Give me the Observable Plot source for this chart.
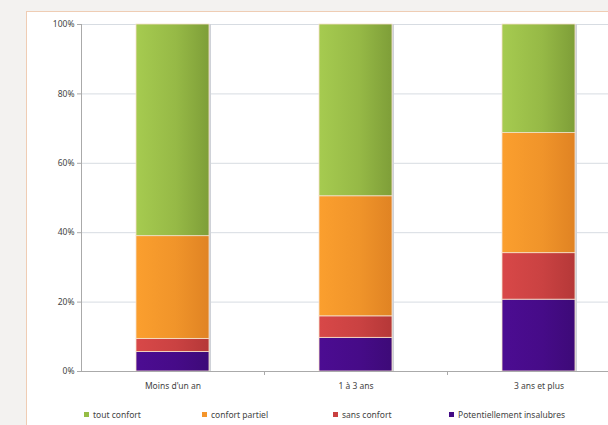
<!DOCTYPE html>
<html><head><meta charset="utf-8">
<script src="https://cdn.jsdelivr.net/npm/d3@7"></script>
<script src="https://cdn.jsdelivr.net/npm/@observablehq/plot@0.6"></script>
<style>
html,body{margin:0;padding:0;background:#f3f2f0;width:608px;height:425px;overflow:hidden;font-family:"Noto Sans",sans-serif;}
#frame{position:absolute;left:26px;top:11px;width:620px;height:430px;background:#fff;border:1px solid #efcdb4;box-sizing:border-box;}
#chart{position:absolute;left:0;top:0;}
#legend{position:absolute;left:84px;top:409px;display:flex;font-size:8.5px;color:#444;}
#legend .it{display:flex;align-items:center;}
#legend .sw{width:5px;height:5px;margin-right:4px;}
</style></head>
<body>
<div id="frame"></div>
<div id="chart"></div>
<div id="legend"></div>
<script>
const categories = ["Moins d'un an", "1 à 3 ans", "3 ans et plus"];
const series = ["Potentiellement insalubres", "sans confort", "confort partiel", "tout confort"];
const potentiellementInsalubres = [5.6, 9.7, 20.7];
const sansConfort = [3.8, 6.2, 13.4];
const confortPartiel = [29.6, 34.6, 34.6];
const toutConfort = [61.0, 49.5, 31.3];
const yTicks = [0, 20, 40, 60, 80, 100];
const legendOrder = ["tout confort", "confort partiel", "sans confort", "Potentiellement insalubres"];

const valuesBySeries = [potentiellementInsalubres, sansConfort, confortPartiel, toutConfort];
const data = [];
series.forEach((s, si) => categories.forEach((c, ci) => data.push({cat: c, serie: s, value: valuesBySeries[si][ci]})));
const totals = categories.map((c) => ({cat: c, value: 100}));

const gradIds = {
  "Potentiellement insalubres": ["g3", "#4c0c92", "#3d0a78"],
  "sans confort": ["g2", "#d84848", "#b53838"],
  "confort partiel": ["g1", "#fb9f2e", "#e08323"],
  "tout confort": ["g0", "#a6cb50", "#7e9e38"]
};
const swatch = {"tout confort": "#96bd45", "confort partiel": "#f4952b", "sans confort": "#c94040", "Potentiellement insalubres": "#430a85"};

const plot = Plot.plot({
  width: 608, height: 395,
  marginTop: 24, marginBottom: 24, marginLeft: 81, marginRight: 0,
  style: {background: "transparent", fontFamily: "Noto Sans", fontSize: "8.5px", color: "#444"},
  x: {domain: categories, range: [81, 630], paddingInner: 0.6, paddingOuter: 0.3, label: null},
  y: {domain: [0, 100], label: null},
  marks: [
    Plot.ruleY(yTicks.filter(d => d > 0), {stroke: "#d7dce2", strokeWidth: 1}),
    Plot.axisY({ticks: yTicks, tickFormat: d => d + "%", tickSize: 4, tickPadding: 3, stroke: "#aaa", label: null}),
    Plot.barY(totals, {x: "cat", y: "value", fill: "#cfd2d8", dx: 2}),
    Plot.barY(data, Plot.stackY({order: series, x: "cat", y: "value", z: "serie",
      fill: d => `url(#${gradIds[d.serie][0]})`, stroke: "#f7e2cc", strokeWidth: 0.8})),
    Plot.ruleX([categories[0]], {x: d => d, y1: 0, y2: 100, dx: -91.5, stroke: "#aaa"}),
    Plot.ruleY([0], {stroke: "#aaa"}),
    Plot.ruleX(categories.slice(0, 2), {x: d => d, y1: 0, y2: 0, insetBottom: -4, dx: 91.5, stroke: "#aaa"}),
    Plot.axisX({tickSize: 0, tickPadding: 11, label: null})
  ]
});
document.getElementById("chart").appendChild(plot);

const svg = d3.select(plot);
const defs = svg.insert("defs", ":first-child");
Object.values(gradIds).forEach(([id, c1, c2]) => {
  const g = defs.append("linearGradient").attr("id", id).attr("x1", "0").attr("x2", "1").attr("y1", "0").attr("y2", "0");
  g.append("stop").attr("offset", "0%").attr("stop-color", c1);
  g.append("stop").attr("offset", "55%").attr("stop-color", d3.interpolateRgb(c1, c2)(0.4));
  g.append("stop").attr("offset", "100%").attr("stop-color", c2);
});

const widths = [118, 131, 116, 140];
const leg = d3.select("#legend");
legendOrder.forEach((s, i) => {
  const it = leg.append("div").attr("class", "it").style("width", widths[i] + "px");
  it.append("div").attr("class", "sw").style("background", swatch[s]);
  it.append("span").text(s);
});
</script>
</body></html>
